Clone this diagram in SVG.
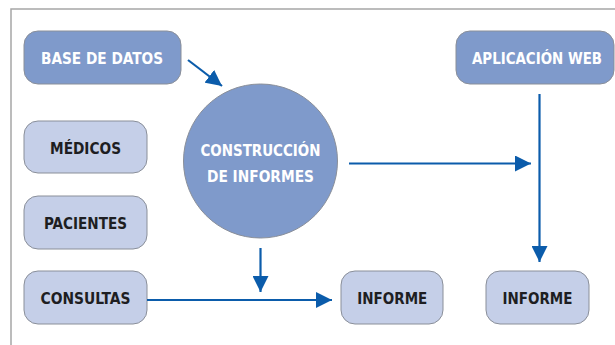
<svg xmlns="http://www.w3.org/2000/svg" width="615" height="345" viewBox="0 0 615 345">
<style>
.dark{fill:#7f9acb;stroke:#8a8f99;stroke-width:1}
.light{fill:#c5cfe8;stroke:#8a8f99;stroke-width:1}
text{font-family:"DejaVu Sans Condensed","Liberation Sans",sans-serif;font-size:16.5px;font-weight:bold;text-anchor:middle}
.wt{fill:#ffffff}
.bt{fill:#1e1e22}
.conn line{stroke:#0b5cab;stroke-width:2.2;fill:none}
</style>
<defs>
<marker id="ahb" viewBox="0 0 16 16" refX="16" refY="8" markerWidth="16" markerHeight="16" markerUnits="userSpaceOnUse" orient="auto">
<path d="M0,0 L16,8 L0,16 z" fill="#0b5cab"/>
</marker>
</defs>
<rect width="615" height="345" fill="#ffffff"/>
<path d="M11,345 V9 H615" fill="none" stroke="#a6a6a6" stroke-width="1.5"/>
<g id="base-de-datos">
<rect class="dark" x="24" y="31" width="157" height="53" rx="14"/>
<text class="wt" x="102" y="64" textLength="122" lengthAdjust="spacingAndGlyphs">BASE DE DATOS</text>
</g>
<g id="medicos">
<rect class="light" x="24" y="121" width="123" height="52" rx="14"/>
<text class="bt" x="85.5" y="153.5" textLength="71" lengthAdjust="spacingAndGlyphs">MÉDICOS</text>
</g>
<g id="pacientes">
<rect class="light" x="24" y="196" width="123" height="53" rx="14"/>
<text class="bt" x="85.5" y="229" textLength="83" lengthAdjust="spacingAndGlyphs">PACIENTES</text>
</g>
<g id="consultas">
<rect class="light" x="24" y="271" width="123" height="53" rx="14"/>
<text class="bt" x="85.5" y="304" textLength="90" lengthAdjust="spacingAndGlyphs">CONSULTAS</text>
</g>
<g id="construccion">
<circle class="dark" cx="260.5" cy="161" r="77"/>
<text class="wt" x="260.5" y="155.5" textLength="120" lengthAdjust="spacingAndGlyphs">CONSTRUCCIÓN</text>
<text class="wt" x="260.5" y="181.5" textLength="107" lengthAdjust="spacingAndGlyphs">DE INFORMES</text>
</g>
<g id="aplicacion-web">
<rect class="dark" x="456" y="31" width="158" height="53" rx="14"/>
<text class="wt" x="537" y="64" textLength="130" lengthAdjust="spacingAndGlyphs">APLICACIÓN WEB</text>
</g>
<g id="informe-1">
<rect class="light" x="341" y="271" width="102" height="53" rx="14"/>
<text class="bt" x="392.3" y="304" textLength="70" lengthAdjust="spacingAndGlyphs">INFORME</text>
</g>
<g id="informe-2">
<rect class="light" x="486" y="271" width="103" height="53" rx="14"/>
<text class="bt" x="537.5" y="304" textLength="70" lengthAdjust="spacingAndGlyphs">INFORME</text>
</g>
<g class="conn" id="connectors">
<line x1="188" y1="60" x2="222" y2="86" marker-end="url(#ahb)"/>
<line x1="349" y1="163.5" x2="531" y2="163.5" marker-end="url(#ahb)"/>
<line x1="539.5" y1="94" x2="539.5" y2="262" marker-end="url(#ahb)"/>
<line x1="260.5" y1="248" x2="260.5" y2="292" marker-end="url(#ahb)"/>
<line x1="147" y1="300" x2="332" y2="300" marker-end="url(#ahb)"/>
</g>
</svg>
